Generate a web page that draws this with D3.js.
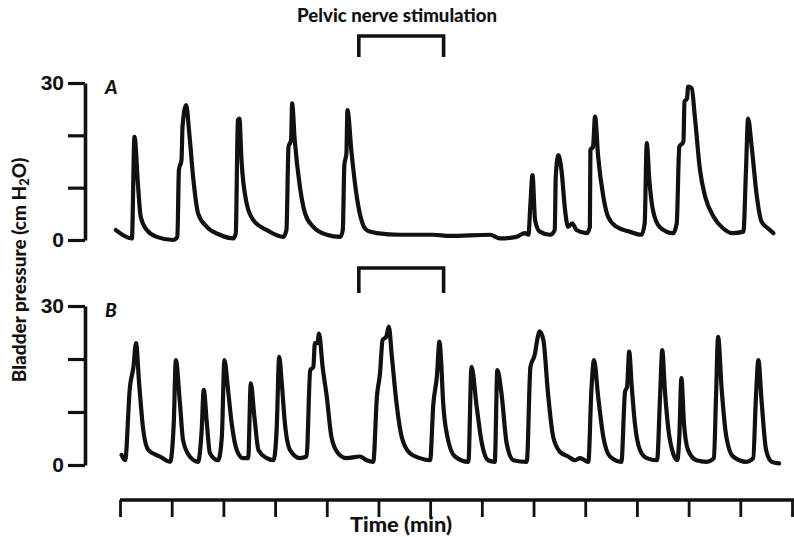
<!DOCTYPE html>
<html>
<head>
<meta charset="utf-8">
<script src="https://cdn.jsdelivr.net/npm/d3@7"></script>
<style>
  body { margin: 0; background: #fff; }
  svg { display: block; font-family: Lato, "Open Sans", sans-serif; }
</style>
</head>
<body>
<svg id="chart" width="794" height="537"></svg>
<script>
// time (min, one tick per minute) and bladder pressure (cm H2O)
var timeA = [-0.08, 0.23, 0.28, 0.35, 0.40, 0.52, 0.71, 1.03, 1.11, 1.14, 1.19, 1.21, 1.28, 1.34, 1.42, 1.51, 1.68, 1.93,
  2.19, 2.24, 2.28, 2.31, 2.35, 2.45, 2.58, 2.84, 3.16, 3.22, 3.26, 3.31, 3.33, 3.38, 3.48, 3.58, 3.74, 4.00,
  4.26, 4.31, 4.34, 4.38, 4.40, 4.48, 4.58, 4.68, 4.77, 4.97, 5.42, 6.06, 6.38, 7.16, 7.35, 7.67, 7.83, 7.90,
  7.94, 7.98, 8.03, 8.12, 8.32, 8.41, 8.43, 8.48, 8.54, 8.61, 8.67, 8.75, 8.83, 9.03, 9.09, 9.10, 9.15, 9.19,
  9.25, 9.35, 9.44, 9.61, 9.86, 10.09, 10.15, 10.19, 10.24, 10.31, 10.44, 10.70, 10.77, 10.82, 10.90, 10.92,
  10.97, 10.99, 11.06, 11.12, 11.22, 11.32, 11.48, 11.67, 11.86, 12.06, 12.11, 12.15, 12.22, 12.32, 12.41,
  12.54, 12.64];
var pressA = [1.9, 0.3, 19.7, 10.2, 4.5, 1.9, 0.6, 0.0, 0.6, 13.4, 15.3, 21.7, 25.8, 20.4, 11.5, 5.1, 2.5, 1.0,
  0.3, 1.3, 22.9, 23.2, 15.3, 7.0, 3.8, 1.9, 0.6, 1.9, 17.8, 19.1, 26.1, 19.1, 10.2, 5.1, 2.5, 1.0,
  0.6, 1.9, 14.3, 16.6, 24.8, 16.6, 8.3, 3.5, 1.9, 1.3, 1.0, 1.0, 0.8, 1.0, 0.3, 0.6, 1.3, 1.0,
  7.0, 12.4, 3.8, 1.6, 1.0, 1.9, 12.1, 16.2, 13.4, 5.7, 2.5, 3.2, 1.9, 1.3, 2.5, 17.2, 17.8, 23.6,
  15.9, 8.3, 4.5, 2.5, 1.6, 1.0, 3.2, 18.5, 11.5, 5.7, 2.5, 1.3, 3.2, 17.8, 18.8, 26.4,
  27.1, 29.3, 29.0, 23.6, 13.4, 8.3, 4.5, 2.2, 1.3, 1.6, 13.4, 23.2, 17.8, 8.3, 3.5,
  2.2, 1.3];

var timeB = [0.03, 0.10, 0.19, 0.26, 0.31, 0.37, 0.45, 0.55, 0.77, 0.97, 1.04, 1.08, 1.16, 1.22, 1.35, 1.51, 1.58,
  1.62, 1.68, 1.74, 1.90, 1.97, 2.02, 2.09, 2.16, 2.26, 2.38, 2.48, 2.53, 2.60, 2.68, 2.84, 2.97, 3.03, 3.08,
  3.13, 3.19, 3.29, 3.48, 3.61, 3.68, 3.74, 3.77, 3.82, 3.85, 3.92, 4.00, 4.09, 4.22, 4.38, 4.64, 4.77, 4.90,
  4.97, 5.03, 5.08, 5.15, 5.20, 5.26, 5.35, 5.45, 5.61, 5.80, 6.00, 6.06, 6.13, 6.18, 6.21, 6.25, 6.33, 6.48,
  6.74, 6.80, 6.90, 7.00, 7.12, 7.25, 7.30, 7.38, 7.48, 7.61, 7.87, 7.94, 8.03, 8.06, 8.12, 8.19, 8.28, 8.38,
  8.51, 8.67, 8.80, 8.90, 9.06, 9.12, 9.17, 9.25, 9.35, 9.48, 9.70, 9.77, 9.81, 9.85, 9.90, 9.96, 10.06,
  10.19, 10.39, 10.45, 10.49, 10.54, 10.61, 10.70, 10.78, 10.82, 10.86, 10.91, 10.99, 11.15, 11.35, 11.49,
  11.53, 11.57, 11.64, 11.73, 11.86, 12.12, 12.25, 12.30, 12.35, 12.41, 12.50, 12.61, 12.75];
var pressB = [1.9, 0.9, 14.5, 18.5, 23.0, 15.4, 6.6, 2.8, 1.6, 0.6, 7.9, 19.8, 11.6, 4.7, 1.6, 0.6, 6.6,
  14.2, 7.9, 2.2, 0.9, 5.3, 19.8, 14.2, 7.9, 2.8, 1.3, 1.3, 15.4, 9.1, 2.8, 1.3, 0.9, 6.6, 20.4,
  15.4, 7.9, 2.8, 1.3, 1.6, 17.9, 18.5, 23.0, 23.0, 24.8, 18.5, 12.9, 5.3, 2.2, 1.3, 1.6, 0.9, 0.6,
  12.9, 17.3, 23.6, 24.2, 26.1, 20.4, 11.6, 5.3, 2.2, 1.3, 0.9, 11.3, 16.7, 23.3, 20.0, 12.0, 5.5, 1.6,
  0.6, 18.5, 11.0, 4.1, 0.9, 0.6, 17.9, 13.5, 4.1, 0.9, 0.6, 18.5, 21.1, 23.0, 25.2, 23.6, 13.5, 5.3,
  2.5, 1.6, 0.9, 1.3, 0.6, 14.2, 19.8, 12.9, 5.3, 1.6, 0.6, 13.8, 14.8, 21.4, 14.8, 7.9, 2.8,
  1.3, 0.9, 13.5, 21.7, 14.2, 6.6, 2.2, 0.9, 5.3, 16.4, 7.9, 2.8, 0.9, 0.6, 1.3,
  12.9, 24.2, 14.2, 5.3, 1.6, 0.6, 1.3, 12.3, 19.8, 12.3, 2.8, 0.6, 0.3];

var stimulation = [4.62, 6.26];       // min
var timeTicks = d3.range(0, 14);     // 0..13 min
var pressureTicks = [0, 10, 20, 30];

var svg = d3.select("#chart");

var x = d3.scaleLinear().domain([0, 13]).range([120, 792]);
var yA = d3.scaleLinear().domain([0, 30]).range([240, 83]);
var yB = d3.scaleLinear().domain([0, 30]).range([465, 306]);

function drawPanel(y, times, press, letter, bracketTop, bracketBottom) {
  // pressure axis
  var ax = svg.append("g")
    .attr("transform", "translate(85,0)")
    .call(d3.axisLeft(y).tickValues(pressureTicks).tickSize(17).tickSizeOuter(0).tickPadding(4)
      .tickFormat(function (d) { return (d === 0 || d === 30) ? d : ""; }));
  ax.select(".domain").attr("stroke", "#111").attr("stroke-width", 3.6);
  ax.selectAll(".tick line").attr("stroke", "#111").attr("stroke-width", 3.2);
  ax.selectAll(".tick text")
    .style("font-size", "21px").style("font-weight", "900").attr("fill", "#111");

  svg.append("text")
    .attr("x", 105).attr("y", y(30) + 11)
    .style("font-size", "19px").style("font-style", "italic").style("font-weight", "900")
    .attr("fill", "#111")
    .text(letter);

  // trace
  var pts = times.map(function (t, i) { return [t, press[i]]; });
  var line = d3.line()
    .x(function (d) { return x(d[0]); })
    .y(function (d) { return y(d[1]); })
    .curve(d3.curveMonotoneX);
  svg.append("path")
    .datum(pts)
    .attr("d", line)
    .attr("fill", "none")
    .attr("stroke", "#111")
    .attr("stroke-width", 4.2)
    .attr("stroke-linejoin", "round")
    .attr("stroke-linecap", "round");

  // stimulation bracket
  var x0 = x(stimulation[0]), x1 = x(stimulation[1]);
  svg.append("path")
    .attr("d", "M" + x0 + "," + bracketBottom + "V" + bracketTop + "H" + x1 + "V" + bracketBottom)
    .attr("fill", "none")
    .attr("stroke", "#111")
    .attr("stroke-width", 3.6);
}

drawPanel(yA, timeA, pressA, "A", 36, 57);
drawPanel(yB, timeB, pressB, "B", 268, 293);

// title
svg.append("text")
  .attr("x", 397).attr("y", 22)
  .attr("text-anchor", "middle")
  .attr("textLength", 200).attr("lengthAdjust", "spacingAndGlyphs")
  .style("font-size", "19px").style("font-weight", "900")
  .attr("fill", "#111")
  .text("Pelvic nerve stimulation");

// time axis, no labels
var tx = svg.append("g")
  .attr("transform", "translate(0,500)")
  .call(d3.axisBottom(x).tickValues(timeTicks).tickSize(17).tickSizeOuter(0).tickFormat(""));
tx.select(".domain").attr("stroke", "#111").attr("stroke-width", 3.6).attr("d", "M120,0H794");
tx.selectAll(".tick line").attr("stroke", "#111").attr("stroke-width", 2.8);

svg.append("text")
  .attr("x", 401).attr("y", 532)
  .attr("text-anchor", "middle")
  .attr("textLength", 102).attr("lengthAdjust", "spacingAndGlyphs")
  .style("font-size", "20px").style("font-weight", "900")
  .attr("fill", "#111")
  .text("Time (min)");

// y label
var yl = svg.append("text")
  .attr("transform", "translate(26,270) rotate(-90)")
  .attr("text-anchor", "middle")
  .style("font-size", "19px").style("font-weight", "900")
  .attr("fill", "#111");
yl.append("tspan").text("Bladder pressure (cm H");
yl.append("tspan").attr("baseline-shift", "-25%").style("font-size", "13px").text("2");
yl.append("tspan").text("O)");
</script>
</body>
</html>
